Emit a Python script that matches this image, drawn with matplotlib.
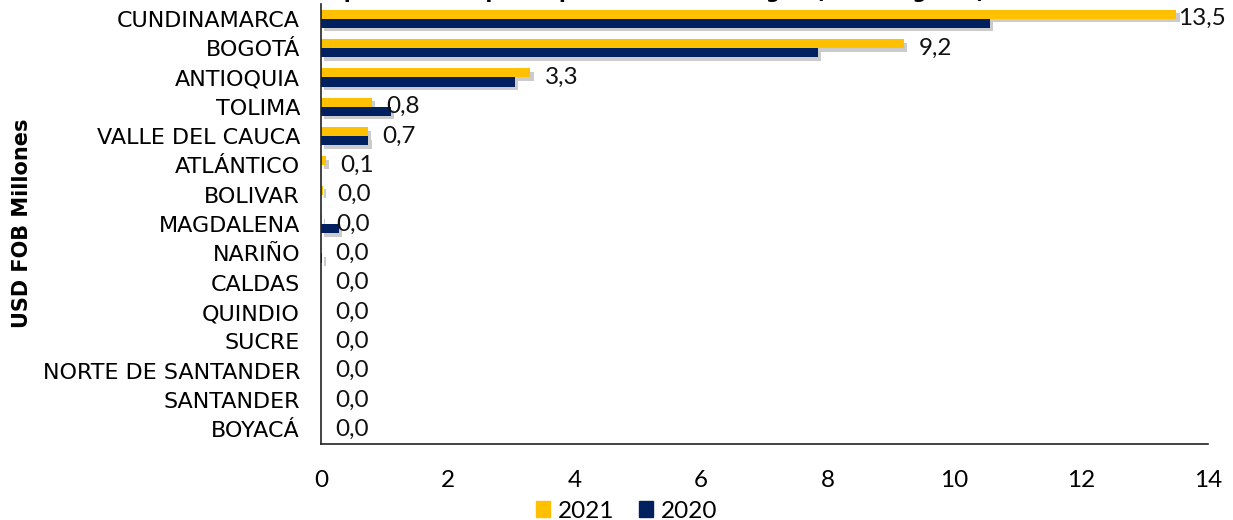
import numpy as np
import matplotlib
matplotlib.use("Agg")
from matplotlib import pyplot as plt
from matplotlib import patheffects as pe
from matplotlib.patches import Patch

# data (USD FOB millones)
departamentos = ["CUNDINAMARCA", "BOGOTÁ", "ANTIOQUIA", "TOLIMA", "VALLE DEL CAUCA",
                 "ATLÁNTICO", "BOLIVAR", "MAGDALENA", "NARIÑO", "CALDAS", "QUINDIO",
                 "SUCRE", "NORTE DE SANTANDER", "SANTANDER", "BOYACÁ"]
valores_2021 = [13.5, 9.2, 3.3, 0.8, 0.74, 0.08, 0.03, 0.01, 0.0, 0.0, 0.0, 0.0, 0.0, 0.0, 0.0]
valores_2020 = [10.56, 7.84, 3.06, 1.1, 0.75, 0.0, 0.0, 0.28, 0.02, 0.0, 0.0, 0.0, 0.0, 0.0, 0.0]
etiquetas = ["13,5", "9,2", "3,3", "0,8", "0,7", "0,1", "0,0", "0,0", "0,0", "0,0",
             "0,0", "0,0", "0,0", "0,0", "0,0"]

amarillo = "#FFC000"
azul = "#002060"

num_font = ["Lato", "DejaVu Sans"]
cat_font = ["DejaVu Sans"]

fig = plt.figure(figsize=(12.33, 5.2), dpi=100)
ax = fig.add_axes([0.2603, 0.146, 0.7194, 0.846])

y = np.arange(len(departamentos))
h = 0.31
sombra = [pe.SimplePatchShadow(offset=(2.5, -2.5), shadow_rgbFace="#555555", alpha=0.3), pe.Normal()]

b1 = ax.barh(y - h / 2, valores_2021, height=h, color=amarillo, label="2021")
b2 = ax.barh(y + h / 2, valores_2020, height=h, color=azul, label="2020")
for b in list(b1) + list(b2):
    b.set_path_effects(sombra)

for i, txt in enumerate(etiquetas):
    off = 1.5 if valores_2021[i] > 13 else 10.5
    ax.annotate(txt, xy=(valores_2021[i], y[i]), xytext=(off, 0), textcoords="offset points",
                va="center", ha="left", fontsize=17.5, family=num_font, color="#111111",
                annotation_clip=False)

ax.set_xlim(0, 14)
ax.set_ylim(len(departamentos) - 0.5, -0.5)
ax.set_xticks(range(0, 15, 2))
ax.set_yticks(y)
ax.set_yticklabels(departamentos, family=cat_font, fontsize=16)
ax.tick_params(axis="y", length=0, pad=15)
ax.tick_params(axis="x", length=0, pad=19)
for lab in ax.get_xticklabels():
    lab.set_family(num_font)
    lab.set_fontsize(17.5)
for s in ["top", "right"]:
    ax.spines[s].set_visible(False)
for s in ["left", "bottom"]:
    ax.spines[s].set_color("#222222")
    ax.spines[s].set_linewidth(1.2)

fig.text(0.0178, 0.571, "USD FOB Millones", rotation=90, fontsize=15, fontweight="bold",
         family=cat_font, ha="center", va="center")

# title, cut off at the top like the reference
fig.text(0.528, 1.004, "Exportaciones por departamento de origen (enero-agosto)",
         ha="center", va="baseline", fontsize=14.5, fontweight="bold", family=cat_font)

handles = [Patch(color=amarillo, label="2021"), Patch(color=azul, label="2020")]
leg = fig.legend(handles=handles, loc="lower center", bbox_to_anchor=(0.508, -0.045), ncol=2,
                 frameon=False, prop={"family": num_font, "size": 17.5}, handlelength=0.6,
                 handleheight=0.6, handletextpad=0.3, columnspacing=1.0)

fig.savefig("out.png", dpi=100)
